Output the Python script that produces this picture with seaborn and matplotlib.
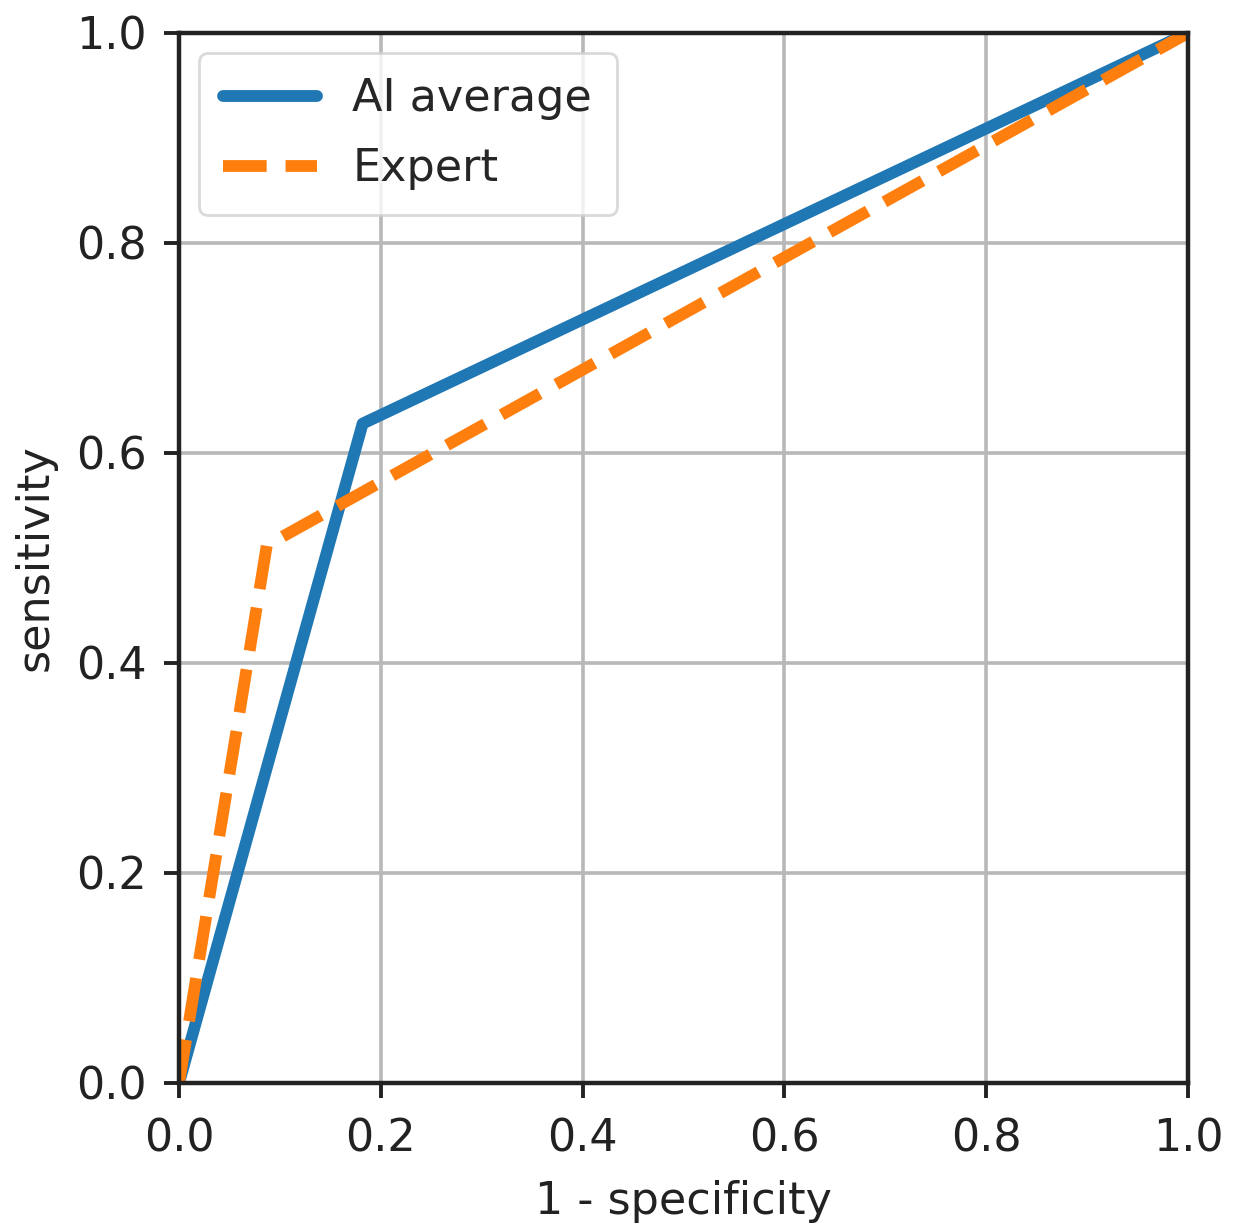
import pandas as pd
import seaborn as sns
import matplotlib
matplotlib.use("Agg")
import matplotlib.pyplot as plt

sns.set_theme(style="ticks", context="notebook")
plt.rcParams['font.family'] = ['DejaVu Sans']

# ROC points
fpr_ai = [0.0, 0.182, 1.0]
tpr_ai = [0.0, 0.628, 1.0]
fpr_expert = [0.0, 0.087, 1.0]
tpr_expert = [0.0, 0.512, 1.0]
ticks = [0.0, 0.2, 0.4, 0.6, 0.8, 1.0]

ai = pd.DataFrame({'fpr': fpr_ai, 'tpr': tpr_ai})
expert = pd.DataFrame({'fpr': fpr_expert, 'tpr': tpr_expert})

fs = 32
fig = plt.figure(figsize=(12.37, 12.31), dpi=100)
ax = fig.add_axes([179 / 1237, 1 - 1083 / 1231, (1188 - 179) / 1237, (1083 - 33) / 1231])

sns.lineplot(data=ai, x='fpr', y='tpr', ax=ax, color='#1f77b4', lw=8.5, label='AI average')
sns.lineplot(data=expert, x='fpr', y='tpr', ax=ax, color='#ff7f0e', lw=8.5,
             linestyle='--', label='Expert')

ax.set_xlim(0, 1)
ax.set_ylim(0, 1)
ax.set_xticks(ticks)
ax.set_yticks(ticks)
ax.grid(True, color='#b8b8b8', lw=2.6)
ax.set_axisbelow(True)
for s in ax.spines.values():
    s.set_linewidth(3.2)
    s.set_color('#222222')
ax.tick_params(labelsize=fs, length=11, width=2.8, colors='#222222')
ax.tick_params(axis='x', pad=14)
ax.tick_params(axis='y', pad=12)
ax.set_xlabel('1 - specificity', fontsize=fs, labelpad=14, color='#222222')
ax.set_ylabel('sensitivity', fontsize=fs, labelpad=14, color='#222222')

leg = ax.legend(loc='upper left', fontsize=fs, frameon=True, fancybox=True,
                borderpad=0.55, labelspacing=0.6, handlelength=2.1,
                borderaxespad=0.45)
leg.get_frame().set_linewidth(2.0)
leg.get_frame().set_edgecolor('#d0d0d0')

fig.savefig('out.png', dpi=100)
